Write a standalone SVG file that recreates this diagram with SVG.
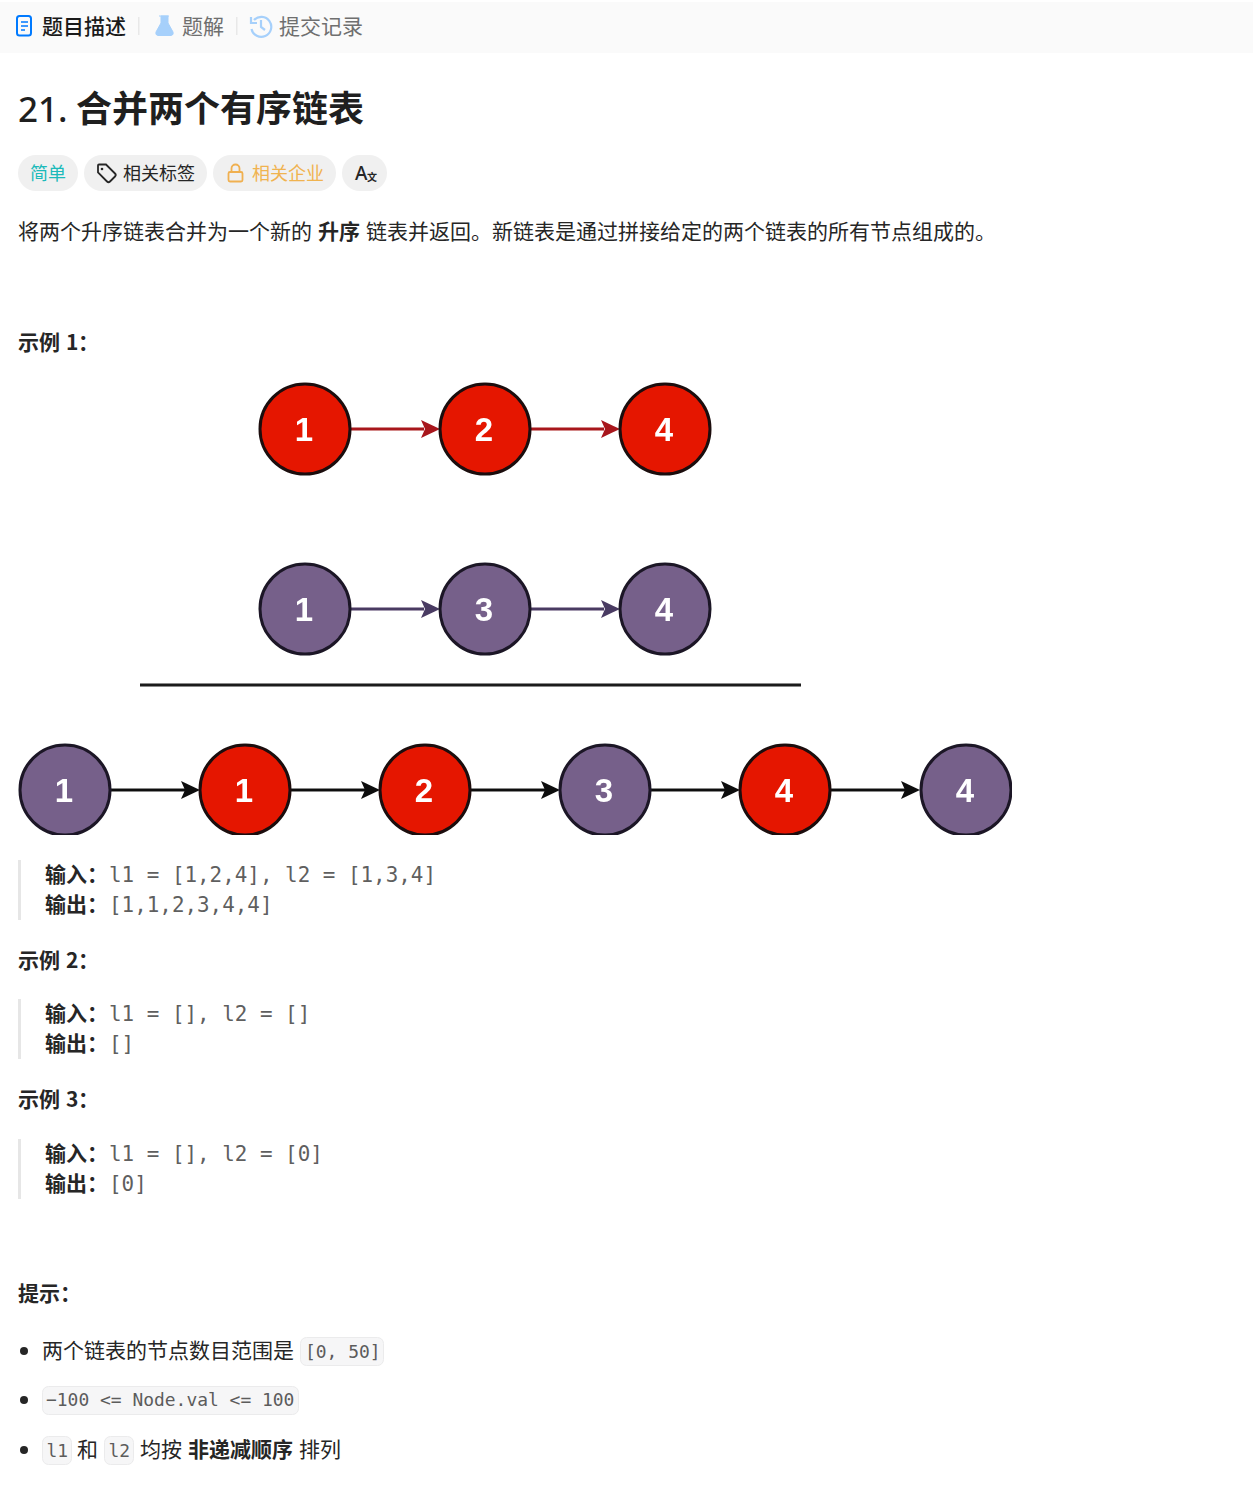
<svg xmlns="http://www.w3.org/2000/svg" width="1253" height="1488" viewBox="0 0 1253 1488">
<style>
text{font-family:"Noto Sans CJK SC","Noto Sans",sans-serif;fill:#262626;font-size:21px}
.b{font-weight:700}
.m{font-family:"DejaVu Sans Mono","Noto Sans CJK SC",monospace;fill:#5f5f5f;font-size:20.900px}
.c{font-family:"DejaVu Sans Mono",monospace;fill:#5c5c5c;font-size:17.950px}
.code{fill:#f6f6f7;stroke:#ebebec;stroke-width:1}
.pill{fill:#f0f0f0}
.tab{font-size:21px;fill:#6f6f6f}
.n{font-family:"Liberation Sans",Arial,sans-serif;font-weight:700;font-size:33px;fill:#fff;text-anchor:middle}
.red{fill:#e51400;stroke:#1a1010;stroke-width:3}
.pur{fill:#76608a;stroke:#1c1826;stroke-width:3}
.lr{stroke:#a8141c;stroke-width:3;fill:none}
.lp{stroke:#4a3a62;stroke-width:3;fill:none}
.lk{stroke:#111;stroke-width:3;fill:none}
.bar{fill:#e6e6e6}
</style>
<defs>
<clipPath id="clip"><rect x="0" y="735" width="1012" height="100"/></clipPath>
<filter id="soft" x="-5%" y="-5%" width="110%" height="110%"><feGaussianBlur stdDeviation="0.450"/></filter>
</defs>
<rect width="1253" height="1488" fill="#fff"/>
<g id="tabs">
<rect x="0" y="2" width="1253" height="51" fill="#fafafa"/>
<rect x="17" y="16" width="14" height="19.500" rx="2.500" fill="none" stroke="#007aff" stroke-width="2"/>
<path d="M21 22h7M21 26h7M21 30h4" stroke="#007aff" stroke-width="1.600" fill="none"/>
<text x="42" y="34" style="font-weight:500;fill:#1a1a1a">题目描述</text>
<rect x="138" y="17" width="1.500" height="18" fill="#e8e8e8"/>
<path d="M159 16h10M161 16v7l-5 9q-1 3 2 3.500h13q3-.5 2-3.500l-5-9v-7z" fill="#a6d0fb" stroke="#a6d0fb" stroke-width="1"/>
<text x="182" y="34" class="tab">题解</text>
<rect x="236" y="17" width="1.500" height="18" fill="#e8e8e8"/>
<path d="M254 20a10 10 0 1 1-2.500 9M251 17v6h6M261 20v7l4 3" fill="none" stroke="#a6d0fb" stroke-width="2.200"/>
<text x="279" y="34" class="tab">提交记录</text>
</g>
<g id="title"><text x="18" y="122" style="font-size:36px;font-weight:700;fill:#1f1f1f"><tspan font-family="Noto Sans" style="font-weight:500;font-size:35px">21.</tspan><tspan x="76">合并两个有序链表</tspan></text></g>
<g id="tags">
<rect class="pill" x="18" y="155" width="60" height="36" rx="18"/>
<text x="30" y="180" style="font-size:18px;fill:#1cbaba">简单</text>
<rect class="pill" x="84" y="155" width="123" height="36" rx="18"/>
<path d="M98 165.500v7l9 9q1.500 1.500 3 0l5-5q1.500-1.500 0-3l-9-9h-7q-1 0-1 1z" fill="none" stroke="#262626" stroke-width="1.800"/>
<circle cx="102" cy="169" r="1.300" fill="#262626"/>
<text x="123" y="180" style="font-size:18px">相关标签</text>
<rect class="pill" x="213" y="155" width="123" height="36" rx="18"/>
<rect x="228.500" y="172" width="14" height="9.500" rx="1.500" fill="none" stroke="#f0b050" stroke-width="1.800"/>
<path d="M231.500 172v-3.500a4 4 0 0 1 8 0v3.500" fill="none" stroke="#f0b050" stroke-width="1.800"/>
<text x="252" y="180" style="font-size:18px;fill:#f0b34f">相关企业</text>
<rect class="pill" x="342" y="155" width="45" height="36" rx="18"/>
<text x="355" y="180" style="font-size:19px;font-family:'Noto Sans';font-weight:500">A</text><text x="367" y="181" style="font-size:10px;font-weight:700">文</text>
</g>
<g id="desc"><text x="18" y="239">将两个升序链表合并为一个新的<tspan class="b" x="318">升序</tspan><tspan x="366">链表并返回。新链表是通过拼接给定的两个链表的所有节点组成的。</tspan></text></g>
<g id="h1"><text x="18" y="350" class="b">示例<tspan x="66">1</tspan></text><text x="78" y="350" class="b">：</text></g>
<g filter="url(#soft)">
<g id="connectors">
<path class="lr" d="M351 429H424M531 429H604"/>
<path fill="#a8141c" d="M421 420L440 429L421 438L425 429zM601 420L620 429L601 438L605 429z"/>
<path class="lp" d="M351 609H424M531 609H604"/>
<path fill="#4a3a62" d="M421 600L440 609L421 618L425 609zM601 600L620 609L601 618L605 609z"/>
<path d="M140 685H801" stroke="#1a1a1a" stroke-width="3" fill="none"/>
<path class="lk" d="M111 790H185M291 790H365M471 790H545M651 790H725M831 790H905"/>
<path fill="#111" d="M181 781L200 790L181 799L185 790zM361 781L380 790L361 799L365 790zM541 781L560 790L541 799L545 790zM721 781L740 790L721 799L725 790zM901 781L920 790L901 799L905 790z"/>
</g>
<g id="a1"><circle class="red" cx="305" cy="429" r="45"/><text class="n" x="304" y="441">1</text></g>
<g id="a2"><circle class="red" cx="485" cy="429" r="45"/><text class="n" x="484" y="441">2</text></g>
<g id="a4"><circle class="red" cx="665" cy="429" r="45"/><text class="n" x="664" y="441">4</text></g>
<g id="b1"><circle class="pur" cx="305" cy="609" r="45"/><text class="n" x="304" y="621">1</text></g>
<g id="b3"><circle class="pur" cx="485" cy="609" r="45"/><text class="n" x="484" y="621">3</text></g>
<g id="b4"><circle class="pur" cx="665" cy="609" r="45"/><text class="n" x="664" y="621">4</text></g>
<g clip-path="url(#clip)">
<g id="m1"><circle class="pur" cx="65" cy="790" r="45"/><text class="n" x="64" y="802">1</text></g>
<g id="m2"><circle class="red" cx="245" cy="790" r="45"/><text class="n" x="244" y="802">1</text></g>
<g id="m3"><circle class="red" cx="425" cy="790" r="45"/><text class="n" x="424" y="802">2</text></g>
<g id="m4"><circle class="pur" cx="605" cy="790" r="45"/><text class="n" x="604" y="802">3</text></g>
<g id="m5"><circle class="red" cx="785" cy="790" r="45"/><text class="n" x="784" y="802">4</text></g>
<g id="m6"><circle class="pur" cx="966" cy="790" r="45"/><text class="n" x="965" y="802">4</text></g>
</g>
</g>
<g id="ex1">
<rect class="bar" x="18" y="860" width="3" height="60"/>
<text x="45" y="882" class="b">输入：</text><text x="109" y="882" class="m">l1 = [1,2,4], l2 = [1,3,4]</text>
<text x="45" y="912" class="b">输出：</text><text x="109" y="912" class="m">[1,1,2,3,4,4]</text>
</g>
<g id="h2"><text x="18" y="968" class="b">示例<tspan x="66">2</tspan></text><text x="78" y="968" class="b">：</text></g>
<g id="ex2">
<rect class="bar" x="18" y="999" width="3" height="60"/>
<text x="45" y="1021" class="b">输入：</text><text x="109" y="1021" class="m">l1 = [], l2 = []</text>
<text x="45" y="1051" class="b">输出：</text><text x="109" y="1051" class="m">[]</text>
</g>
<g id="h3"><text x="18" y="1107" class="b">示例<tspan x="66">3</tspan></text><text x="78" y="1107" class="b">：</text></g>
<g id="ex3">
<rect class="bar" x="18" y="1139" width="3" height="60"/>
<text x="45" y="1161" class="b">输入：</text><text x="109" y="1161" class="m">l1 = [], l2 = [0]</text>
<text x="45" y="1191" class="b">输出：</text><text x="109" y="1191" class="m">[0]</text>
</g>
<g id="hints">
<text x="18" y="1301" class="b">提示：</text>
<circle cx="24" cy="1351" r="4" fill="#262626"/>
<text x="42" y="1358">两个链表的节点数目范围是</text>
<rect class="code" x="300.500" y="1337.500" width="83" height="28" rx="6"/>
<text class="c" x="305" y="1358">[0, 50]</text>
<circle cx="24" cy="1400" r="4" fill="#262626"/>
<rect class="code" x="42.500" y="1386.500" width="256" height="28" rx="6"/>
<text class="c" x="46" y="1406">−100 &lt;= Node.val &lt;= 100</text>
<circle cx="24" cy="1450" r="4" fill="#262626"/>
<rect class="code" x="42.500" y="1436.500" width="29" height="28" rx="6"/>
<text class="c" x="46.500" y="1457">l1</text>
<text x="77" y="1457">和</text>
<rect class="code" x="104.500" y="1436.500" width="29" height="28" rx="6"/>
<text class="c" x="108.500" y="1457">l2</text>
<text x="140" y="1457">均按<tspan class="b" x="188">非递减顺序</tspan><tspan x="299">排列</tspan></text>
</g>
</svg>
